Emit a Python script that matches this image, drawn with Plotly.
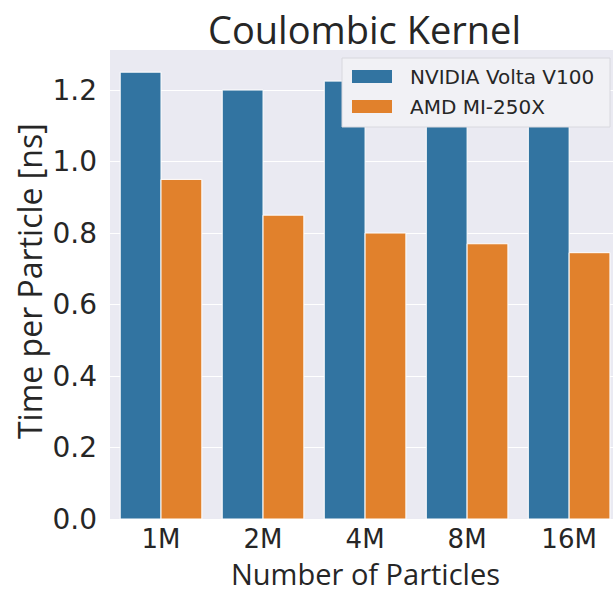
import plotly.graph_objects as go

# Benchmark data: time per particle for the Coulombic kernel
categories = ["1M", "2M", "4M", "8M", "16M"]
series_names = ["NVIDIA Volta V100", "AMD MI-250X"]
v100_times = [1.25, 1.20, 1.225, 1.20, 1.20]
mi250x_times = [0.95, 0.85, 0.80, 0.77, 0.745]
y_ticks = [0.0, 0.2, 0.4, 0.6, 0.8, 1.0, 1.2]

colors = ["#3274A1", "#E1812C"]
text_color = "#262626"
W, H = 613, 592
ML, MR, MT, MB = 110, 0, 50, 73

fig = go.Figure()
for name, vals, col in zip(series_names, [v100_times, mi250x_times], colors):
    fig.add_trace(go.Bar(
        x=list(range(len(categories))), y=vals, name=name,
        marker=dict(color=col, line=dict(color="white", width=1)),
        showlegend=False,
    ))

# helpers converting pixel positions to paper coordinates
pw, ph = W - ML - MR, H - MT - MB
def px(x):
    return (x - ML) / pw
def py(y):
    return (H - MB - y) / ph

shapes = []
annotations = []
# legend box drawn on top of the bars
shapes.append(dict(type="rect", xref="paper", yref="paper", layer="above",
                   x0=px(342), x1=px(610), y0=py(127), y1=py(58),
                   fillcolor="#F1F1F5", line=dict(color="#D8D8DE", width=1)))
for i, (name, col) in enumerate(zip(series_names, colors)):
    yc = 76.5 + 30 * i
    shapes.append(dict(type="rect", xref="paper", yref="paper", layer="above",
                       x0=px(352), x1=px(392), y0=py(yc + 6.5), y1=py(yc - 6.5),
                       fillcolor=col, line=dict(width=0)))
    annotations.append(dict(x=px(408), y=py(yc), xref="paper", yref="paper",
                            text=name, showarrow=False, xanchor="left", yanchor="middle",
                            font=dict(family="DejaVu Sans", size=20, color=text_color)))

# axis titles
annotations.append(dict(x=px(365), y=py(573), xref="paper", yref="paper",
                        text="Number of Particles", showarrow=False,
                        xanchor="center", yanchor="middle",
                        font=dict(family="Open Sans", size=29, color=text_color)))
annotations.append(dict(x=px(29), y=py(281), xref="paper", yref="paper",
                        text="Time per Particle [ns]", showarrow=False, textangle=-90,
                        xanchor="center", yanchor="middle",
                        font=dict(family="Open Sans", size=32, color=text_color)))

fig.update_layout(
    width=W, height=H,
    margin=dict(l=ML, r=MR, t=MT, b=MB),
    paper_bgcolor="white", plot_bgcolor="#EAEAF2",
    barmode="group", bargap=0.2, bargroupgap=0,
    title=dict(text="Coulombic Kernel", x=364.5 / W, xanchor="center",
               y=1 - 31 / H, yanchor="middle",
               font=dict(family="Open Sans", size=38, color=text_color)),
    xaxis=dict(range=[-0.5, 4.43], tickvals=list(range(len(categories))),
               ticktext=categories, showgrid=False, zeroline=False, ticks="",
               ticklabelstandoff=2,
               tickfont=dict(family="DejaVu Sans", size=26, color=text_color)),
    yaxis=dict(range=[0, 1.312], tickvals=y_ticks,
               ticktext=[f"{v:.1f}" for v in y_ticks],
               showgrid=True, gridcolor="white", gridwidth=1, zeroline=False, ticks="",
               ticklabelstandoff=12,
               tickfont=dict(family="DejaVu Sans", size=28, color=text_color)),
    shapes=shapes, annotations=annotations,
)

fig.write_html("out.html")
